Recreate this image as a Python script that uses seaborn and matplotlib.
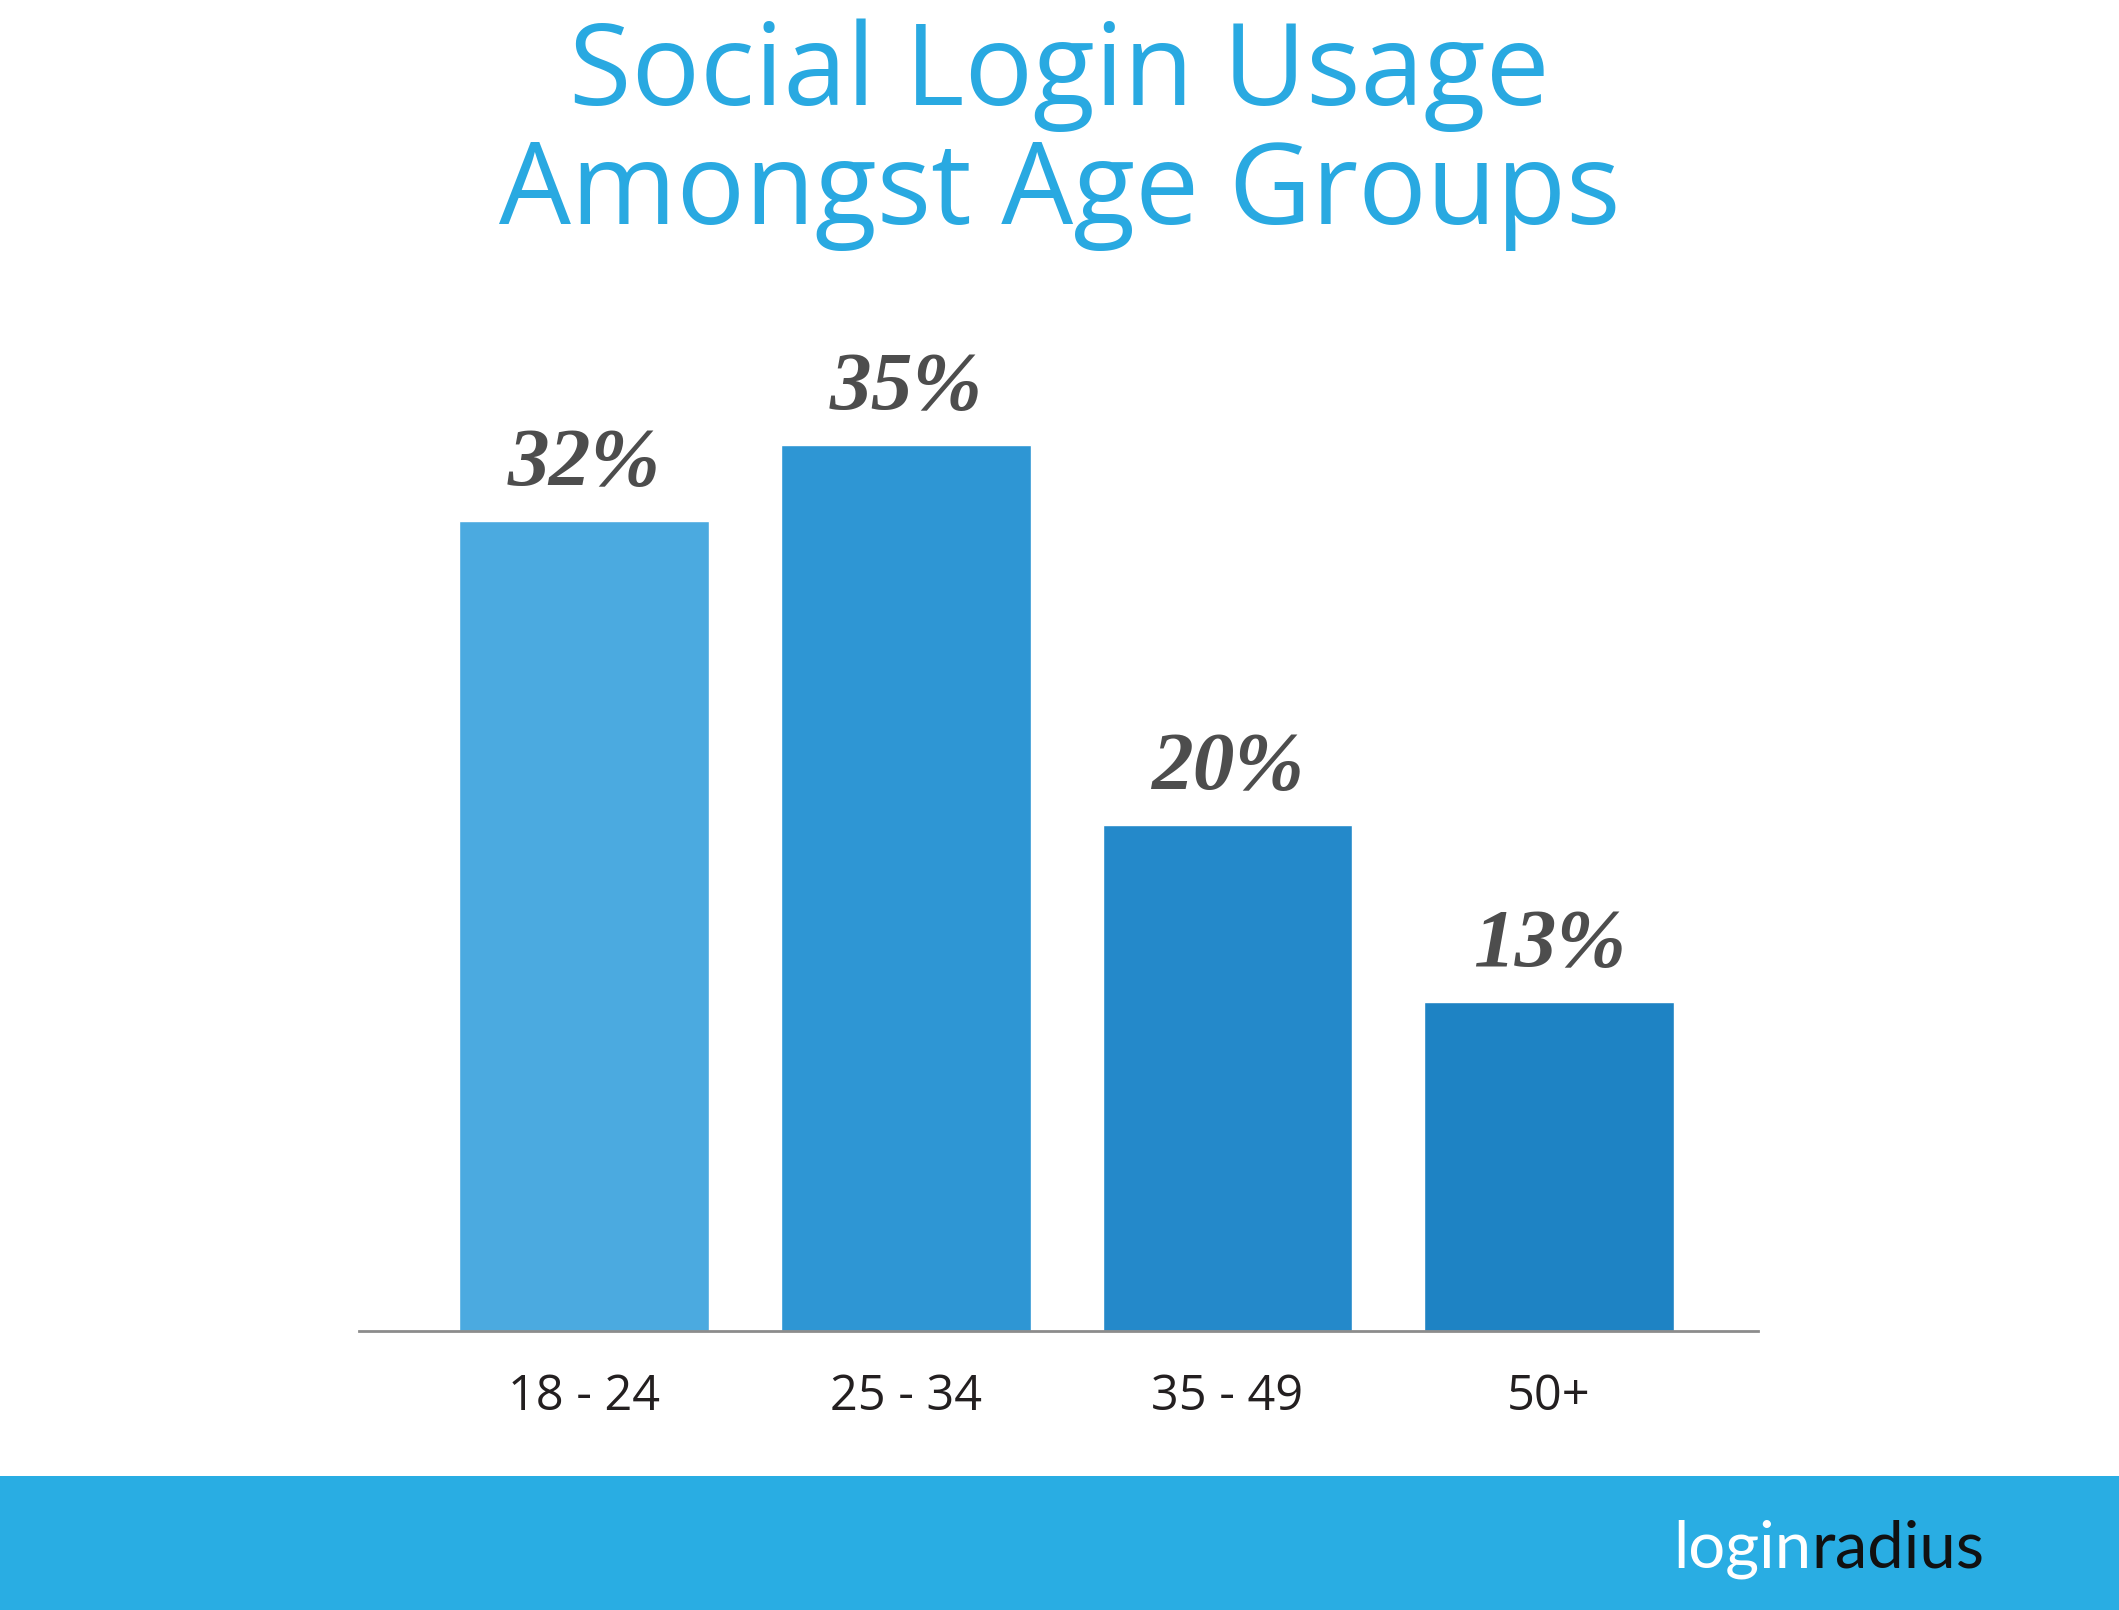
import matplotlib
matplotlib.use("Agg")
import matplotlib.pyplot as plt
import seaborn as sns
import pandas as pd
from matplotlib.patches import Rectangle

# chart data
age_groups = ["18 - 24", "25 - 34", "35 - 49", "50+"]
usage_pct = [32, 35, 20, 13]
bar_colors = ["#4BAAE0", "#2E96D4", "#2489CA", "#1E83C4"]

title_lines = ["Social Login Usage", "Amongst Age Groups"]

sns.set_theme(style="white")
plt.rcParams["font.family"] = ["Open Sans", "DejaVu Sans"]

df = pd.DataFrame({"Age": age_groups, "Usage": usage_pct})

fig = plt.figure(figsize=(21.19, 16.10), dpi=100)
fig.patch.set_facecolor("white")
ax = fig.add_axes([0.1694, 0.1733, 0.6603, 0.6404])

sns.barplot(data=df, x="Age", y="Usage", hue="Age", palette=bar_colors,
            legend=False, width=0.776, saturation=1, ax=ax)

ax.set_xlim(-0.70, 3.65)
ax.set_ylim(0, 40.75)
ax.set_xlabel("")
ax.set_ylabel("")
ax.set_yticks([])
for side in ["left", "right", "top"]:
    ax.spines[side].set_visible(False)
ax.spines["bottom"].set_color("#8C8C8C")
ax.spines["bottom"].set_linewidth(2)
ax.tick_params(axis="x", length=0, pad=30, labelsize=35, labelcolor="#231F20")

for cont in ax.containers:
    ax.bar_label(cont, labels=[f"{v:.0f}%" for v in cont.datavalues], padding=13,
                 fontsize=60, color="#4D4D4D", fontweight="bold", fontstyle="italic",
                 family=["Liberation Serif", "DejaVu Serif"])

# title
fig.text(0.5, 0.9348, title_lines[0], ha="center", va="baseline", fontsize=82, color="#29A9E1")
fig.text(0.5, 0.861, title_lines[1], ha="center", va="baseline", fontsize=82, color="#29A9E1")

# footer band with logo
fig.patches.append(Rectangle((0, 0), 1, 134 / 1610, transform=fig.transFigure,
                             facecolor="#29ADE3", edgecolor="none", zorder=0))
fig.text(0.855, 0.0267, "login", ha="right", va="baseline", fontsize=47,
         color="white", fontweight="normal", family=["Lato", "DejaVu Sans"])
fig.text(0.855, 0.0267, "radius", ha="left", va="baseline", fontsize=47,
         color="#111111", fontweight="normal", family=["Lato", "DejaVu Sans"])

fig.savefig("out.png", dpi=100, facecolor="white")
